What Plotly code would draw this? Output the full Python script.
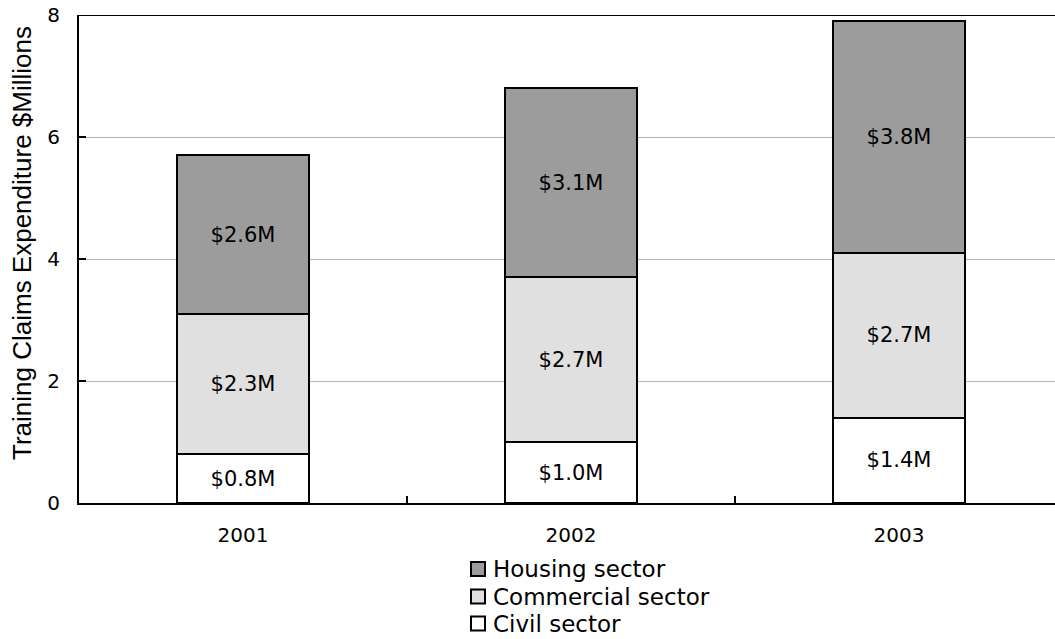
import plotly.graph_objects as go

# Training claims expenditure by sector, $ millions
years = ["2001", "2002", "2003"]
civil = [0.8, 1.0, 1.4]
commercial = [2.3, 2.7, 2.7]
housing = [2.6, 3.1, 3.8]

series = [
    ("Civil sector", civil, "#ffffff"),
    ("Commercial sector", commercial, "#e0e0e0"),
    ("Housing sector", housing, "#9c9c9c"),
]

FONT = "Verdana, DejaVu Sans, sans-serif"
TITLE_FONT = "Arial, Liberation Sans, sans-serif"

W, H = 1055, 639
L, R, T, B = 79, 0, 15, 136
plot_w = W - L - R
plot_h = H - T - B
cat_px = 328.0  # width of one category band


def px_x(px):
    return (px - L) / plot_w


def px_y(py):
    return (H - B - py) / plot_h


fig = go.Figure()
for name, vals, color in series:
    fig.add_trace(go.Bar(
        x=years,
        y=vals,
        name=name,
        width=0.4,
        marker=dict(color=color, line=dict(color="black", width=2)),
        text=[f"${v:.1f}M" for v in vals],
        textposition="inside",
        insidetextanchor="middle",
        constraintext="none",
        textfont=dict(family=FONT, size=21, color="black"),
        hoverinfo="skip",
        showlegend=False,
    ))

# legend block below the plot: housing on top, civil at the bottom
shapes = [dict(
    type="line", xref="paper", yref="y",
    x0=0, x1=1, y0=8, y1=8,
    line=dict(color="black", width=2),
)]
annotations = [dict(
    text="Training Claims Expenditure $Millions",
    xref="paper", yref="paper",
    x=px_x(22), y=px_y(243),
    xanchor="center", yanchor="middle",
    textangle=-90, showarrow=False,
    font=dict(family=TITLE_FONT, size=26, color="black"),
)]
row_centres = [569, 596.5, 623.5]
for (name, _, color), cy in zip(reversed(series), row_centres):
    shapes.append(dict(
        type="rect", xref="paper", yref="paper",
        x0=px_x(471), x1=px_x(485), y0=px_y(cy + 7), y1=px_y(cy - 7),
        fillcolor=color, line=dict(color="black", width=2),
    ))
    annotations.append(dict(
        text=name, xref="paper", yref="paper",
        x=px_x(491), y=px_y(cy),
        xanchor="left", yanchor="middle", showarrow=False,
        font=dict(family=FONT, size=23, color="black"),
    ))

fig.update_layout(
    width=W,
    height=H,
    barmode="stack",
    plot_bgcolor="white",
    paper_bgcolor="white",
    margin=dict(l=L, r=R, t=T, b=B, pad=0, autoexpand=False),
    font=dict(family=FONT, size=20, color="black"),
    showlegend=False,
    xaxis=dict(
        type="category",
        range=[-0.5, -0.5 + plot_w / cat_px],
        tickson="boundaries",
        ticks="inside",
        ticklen=7,
        tickwidth=2,
        tickcolor="black",
        showline=True,
        linecolor="black",
        linewidth=2,
        showgrid=False,
        ticklabelstandoff=13,
        tickfont=dict(family=FONT, size=20),
        fixedrange=True,
    ),
    yaxis=dict(
        range=[0, 8],
        tickvals=[0, 2, 4, 6, 8],
        ticks="inside",
        ticklen=7,
        tickwidth=2,
        tickcolor="black",
        showline=True,
        linecolor="black",
        linewidth=2,
        showgrid=True,
        gridcolor="#b4b4b4",
        gridwidth=1,
        zeroline=False,
        ticklabelstandoff=13,
        tickfont=dict(family=FONT, size=20),
        fixedrange=True,
    ),
    annotations=annotations,
    shapes=shapes,
)

fig.write_html("out.html")
